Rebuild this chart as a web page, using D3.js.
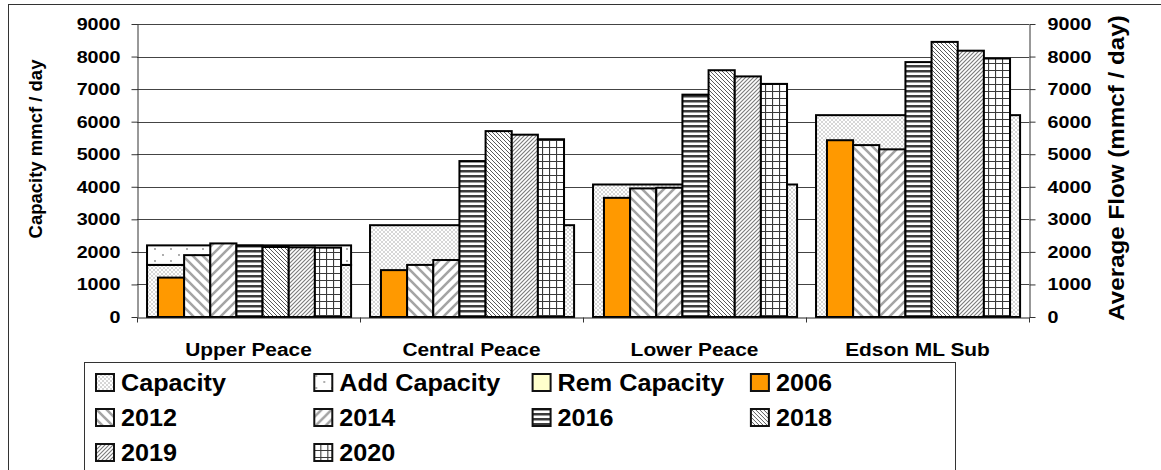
<!DOCTYPE html>
<html><head><meta charset="utf-8">
<script src="https://cdn.jsdelivr.net/npm/d3@7"></script>
<style>
html,body{margin:0;padding:0;background:#fff;}
svg{display:block;font-family:Arial,"Liberation Sans",sans-serif;font-weight:bold;}
</style></head><body>
<svg id="chart" width="1161" height="470"></svg>
<script>
// ---- data ----
const categories = ["Upper Peace", "Central Peace", "Lower Peace", "Edson ML Sub"];
const capacity    = [1600, 2820, 4070, 6200];
const addCapacity = [600, 0, 0, 0];
const remCapacity = [0, 0, 0, 0];
const years = ["2006", "2012", "2014", "2016", "2018", "2019", "2020"];
const flow2006 = [1210, 1440, 3660, 5430];
const flow2012 = [1900, 1600, 3950, 5280];
const flow2014 = [2260, 1750, 3970, 5150];
const flow2016 = [2190, 4790, 6830, 7830];
const flow2018 = [2150, 5710, 7580, 8450];
const flow2019 = [2140, 5600, 7390, 8180];
const flow2020 = [2130, 5460, 7160, 7940];
const yTicks = [0, 1000, 2000, 3000, 4000, 5000, 6000, 7000, 8000, 9000];
const legendLabels = ["Capacity", "Add Capacity", "Rem Capacity", "2006", "2012", "2014", "2016", "2018", "2019", "2020"];

const flows = {"2006": flow2006, "2012": flow2012, "2014": flow2014, "2016": flow2016,
               "2018": flow2018, "2019": flow2019, "2020": flow2020};

const svg = d3.select("#chart");
const defs = svg.append("defs");

function pat(id, w, h, draw) {
  const p = defs.append("pattern").attr("id", id).attr("patternUnits", "userSpaceOnUse")
    .attr("width", w).attr("height", h);
  p.append("rect").attr("width", w).attr("height", h).attr("fill", "#fff");
  draw(p, w, h);
}
pat("pCap", 4, 4, (p) => {
  p.append("path").attr("d", "M0,0L4,4M4,0L0,4").attr("stroke", "#d2d2d2").attr("stroke-width", 0.9);
});
pat("pAdd", 16, 12, (p) => {
  p.append("circle").attr("cx", 3).attr("cy", 3).attr("r", 0.9).attr("fill", "#888");
  p.append("circle").attr("cx", 11).attr("cy", 9).attr("r", 0.9).attr("fill", "#888");
});
pat("pRem", 4, 4, (p) => { p.select("rect").attr("fill", "#FFFFCC"); });
pat("p2006", 4, 4, (p) => { p.select("rect").attr("fill", "#FF9900"); });
pat("p2012", 10, 10, (p) => {
  p.append("path").attr("d", "M-3,7l6,6M0,0l10,10M7,-3l6,6").attr("stroke", "#a4a4a4").attr("stroke-width", 2.6);
});
pat("p2014", 10, 10, (p) => {
  p.append("path").attr("d", "M-3,3l6,-6M0,10l10,-10M7,13l6,-6").attr("stroke", "#a4a4a4").attr("stroke-width", 2.6);
});
pat("p2016", 5, 5, (p) => {
  p.append("rect").attr("y", 0).attr("width", 5).attr("height", 2.5).attr("fill", "#3c3c3c");
});
pat("p2018", 4, 4, (p) => {
  p.append("path").attr("d", "M-1,3l2,2M0,0l4,4M3,-1l2,2").attr("stroke", "#5a5a5a").attr("stroke-width", 1);
});
pat("p2019", 4, 4, (p) => {
  p.append("path").attr("d", "M-1,1l2,-2M0,4l4,-4M3,5l2,-2").attr("stroke", "#7a7a7a").attr("stroke-width", 1.1);
});
pat("p2020", 7, 7, (p) => {
  p.append("path").attr("d", "M0.5,0V7M0,0.5H7").attr("stroke", "#3a3a3a").attr("stroke-width", 1.2);
});
const fills = {"Capacity": "url(#pCap)", "Add Capacity": "url(#pAdd)", "Rem Capacity": "url(#pRem)",
  "2006": "url(#p2006)", "2012": "url(#p2012)", "2014": "url(#p2014)", "2016": "url(#p2016)",
  "2018": "url(#p2018)", "2019": "url(#p2019)", "2020": "url(#p2020)"};

// outer chart border
svg.append("rect").attr("x", 8.5).attr("y", 4.5).attr("width", 1300).attr("height", 600)
  .attr("fill", "#fff").attr("stroke", "#333").attr("stroke-width", 1);

// ---- scales ----
const y = d3.scaleLinear().domain([0, 9000]).range([317, 24]);
const x0 = d3.scaleBand().domain(categories).range([137, 1029]).padding(0);
const bw = x0.bandwidth();
const x1 = d3.scaleBand().domain(years).range([bw * 0.094, bw * 0.915]).padding(0);
const xb = d3.scaleLinear().domain([0, categories.length]).range([137, 1029]);

// gridlines
svg.append("g").selectAll("line").data(yTicks.filter(v => v > 0)).join("line")
  .attr("x1", 137).attr("x2", 1029)
  .attr("y1", d => Math.round(y(d)) + 0.5).attr("y2", d => Math.round(y(d)) + 0.5)
  .attr("stroke", "#444").attr("stroke-width", 1);

// capacity stacks
const capRows = categories.map((c, i) => ({cat: c, "Capacity": capacity[i], "Add Capacity": addCapacity[i], "Rem Capacity": remCapacity[i]}));
const stack = d3.stack().keys(["Capacity", "Add Capacity", "Rem Capacity"])(capRows);
stack.forEach(layer => {
  svg.append("g").selectAll("rect").data(layer.filter(d => d[1] - d[0] > 0)).join("rect")
    .attr("x", d => x0(d.data.cat) + bw * 0.045)
    .attr("width", bw * (0.96 - 0.045))
    .attr("y", d => y(d[1]))
    .attr("height", d => y(d[0]) - y(d[1]))
    .attr("fill", fills[layer.key])
    .attr("stroke", "#000").attr("stroke-width", 2);
});

// flow bars
categories.forEach((c, i) => {
  const g = svg.append("g").attr("transform", `translate(${x0(c)},0)`);
  g.selectAll("rect").data(years).join("rect")
    .attr("x", yr => x1(yr))
    .attr("width", x1.bandwidth())
    .attr("y", yr => y(flows[yr][i]))
    .attr("height", yr => y(0) - y(flows[yr][i]))
    .attr("fill", yr => fills[yr])
    .attr("stroke", "#000").attr("stroke-width", 2);
});

// axes
function styleAxis(g, sx) {
  g.select(".domain").attr("stroke", "#333");
  g.selectAll(".tick line").attr("stroke", "#333");
  g.selectAll(".tick text").attr("font-size", 17).attr("font-weight", "bold")
    .attr("font-family", "Arial, 'Liberation Sans', sans-serif").attr("fill", "#000")
    .attr("transform", `scale(${sx},1)`);
}
const TS = 1.16;
const fmt = d3.format("d");
svg.append("g").attr("transform", "translate(137.5,0)")
  .call(d3.axisLeft(y).tickValues(yTicks).tickFormat(fmt).tickSize(6).tickSizeOuter(0).tickPadding(17 / TS - 6))
  .call(g => styleAxis(g, TS));
svg.append("g").attr("transform", "translate(1029.5,0)")
  .call(d3.axisRight(y).tickValues(yTicks).tickFormat(fmt).tickSize(6).tickSizeOuter(0).tickPadding(18 / TS - 6))
  .call(g => styleAxis(g, TS));
svg.append("g").attr("transform", "translate(0,317.5)")
  .call(d3.axisBottom(xb).tickValues(d3.range(categories.length + 1)).tickSize(5).tickSizeOuter(0).tickFormat(""))
  .call(g => { g.select(".domain").attr("stroke", "#222"); g.selectAll(".tick line").attr("stroke", "#333"); });

// category labels
svg.append("g").selectAll("text").data(categories).join("text")
  .attr("transform", d => `translate(${x0(d) + bw / 2},356) scale(1.1,1)`)
  .attr("text-anchor", "middle").attr("font-size", 19).text(d => d);

// axis titles
svg.append("text").attr("transform", "translate(42,149) rotate(-90)")
  .attr("text-anchor", "middle").attr("font-size", 18.5).text("Capacity mmcf / day");
svg.append("text").attr("transform", "translate(1124,168) rotate(-90) scale(1.1,1)")
  .attr("text-anchor", "middle").attr("font-size", 22).text("Average Flow (mmcf / day)");

// legend
svg.append("rect").attr("x", 84.5).attr("y", 362.5).attr("width", 871).attr("height", 200)
  .attr("fill", "#fff").attr("stroke", "#333").attr("stroke-width", 1);
const lg = svg.append("g").selectAll("g").data(legendLabels).join("g")
  .attr("transform", (d, i) => `translate(${95 + (i % 4) * 218.3},${373 + Math.floor(i / 4) * 35})`);
lg.append("rect").attr("x", 1).attr("y", 1).attr("width", 18).attr("height", 17)
  .attr("fill", d => fills[d]).attr("stroke", "#111").attr("stroke-width", 2);
lg.append("text").attr("transform", "translate(26,18) scale(1.05,1)")
  .attr("font-size", 24).text(d => d);
</script>
</body></html>
